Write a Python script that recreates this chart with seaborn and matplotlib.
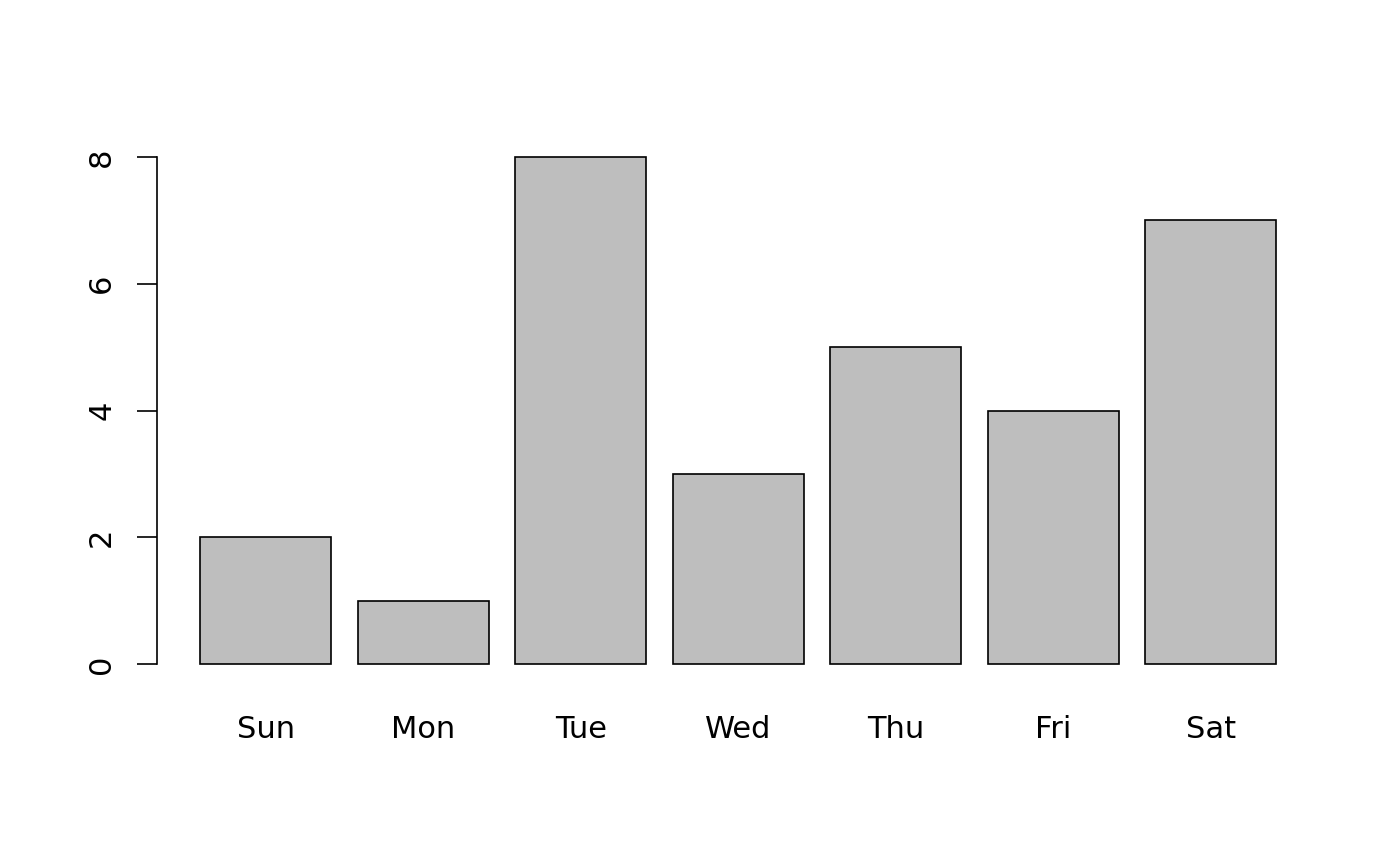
import matplotlib
matplotlib.use('Agg')
import matplotlib.pyplot as plt
import seaborn as sns
import pandas as pd

# data
days = ['Sun', 'Mon', 'Tue', 'Wed', 'Thu', 'Fri', 'Sat']
counts = [2, 1, 8, 3, 5, 4, 7]
y_ticks = [0, 2, 4, 6, 8]

sns.set_style('white')
plt.rcParams['font.family'] = 'DejaVu Sans'
plt.rcParams['text.color'] = 'black'

df = pd.DataFrame({'day': days, 'count': counts})

fig = plt.figure(figsize=(14, 8.66), dpi=100)
ax = fig.add_axes([157 / 1400, (866 - 684.3) / 866,
                   (1319.3 - 157) / 1400, (684.3 - 136.7) / 866])

sns.barplot(data=df, x='day', y='count', order=days, color='#BEBEBE',
            saturation=1, width=1 / 1.2, edgecolor='black', linewidth=1.2, ax=ax)

ax.set_xlim(-0.69, 6.69)
ax.set_ylim(-0.32, 8.32)
ax.set_yticks(y_ticks)
ax.set_yticklabels([str(t) for t in y_ticks], rotation=90, va='center')
ax.set_xlabel('')
ax.set_ylabel('')

for s in ['top', 'right', 'bottom']:
    ax.spines[s].set_visible(False)
ax.spines['left'].set_bounds(0, 8)
ax.spines['left'].set_linewidth(1.2)
ax.spines['left'].set_color('black')

ax.tick_params(axis='y', length=14.4, width=1.2, color='black', pad=15,
               labelsize=22, labelcolor='black', left=True)
ax.tick_params(axis='x', length=0, pad=22, labelsize=22, labelcolor='black')

plt.savefig('out.png', dpi=100)
plt.close()
